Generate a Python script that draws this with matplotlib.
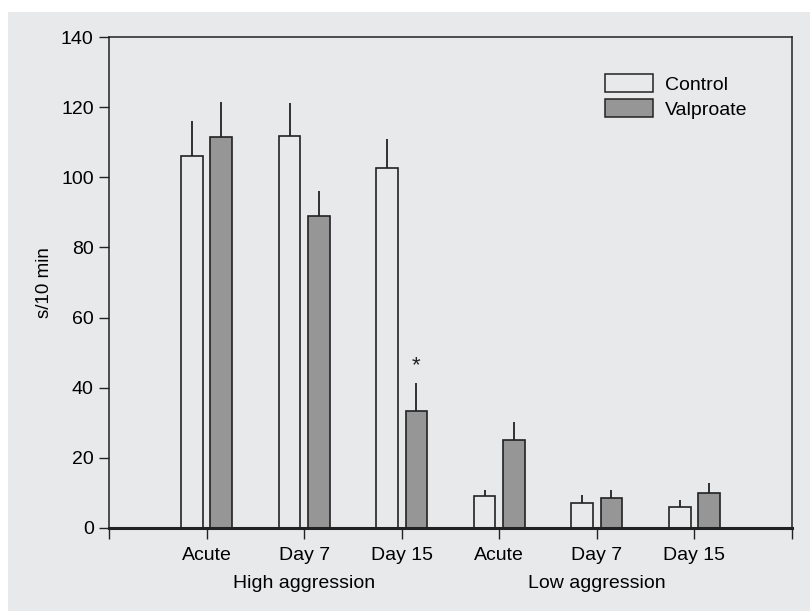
import numpy as np
import matplotlib.pyplot as plt
import matplotlib.transforms as mtransforms
from matplotlib.patches import Rectangle, Patch

plt.rcParams['font.family'] = ['Liberation Sans', 'DejaVu Sans']

# data
days = ["Acute", "Day 7", "Day 15", "Acute", "Day 7", "Day 15"]
groups = ["High aggression", "Low aggression"]
control = [106.1, 111.9, 102.6, 9.0, 7.1, 6.0]
control_err = [10.0, 9.2, 8.2, 1.8, 2.3, 2.0]
valproate = [111.6, 88.9, 33.3, 25.2, 8.5, 10.0]
valproate_err = [9.8, 7.1, 8.1, 5.0, 2.2, 2.8]

bg = "#e8e9eb"
edge = "#222222"
fs = 14

fig = plt.figure(figsize=(8.1, 6.11), dpi=100)
fig.patch.set_facecolor("white")
fig.patches.append(Rectangle((8/810, 0), 1 - 8/810, 1 - 12/611,
                             transform=fig.transFigure, facecolor=bg,
                             edgecolor="none", zorder=-10))

ax = fig.add_axes([109/810, 1 - 528/611, 683/810, 491/611])
ax.set_facecolor("none")

x = np.arange(1, len(days) + 1)
w = 0.22
ax.bar(x - 0.15, control, w, color="none", edgecolor=edge, linewidth=1.2, zorder=3)
ax.bar(x + 0.15, valproate, w, color="#969696", edgecolor=edge, linewidth=1.2, zorder=3)
# upper-only error bars, no caps
ax.vlines(x - 0.15, control, np.array(control) + np.array(control_err),
          color=edge, linewidth=1.3, zorder=2)
ax.vlines(x + 0.15, valproate, np.array(valproate) + np.array(valproate_err),
          color=edge, linewidth=1.3, zorder=2)
ax.text(3.15, valproate[2] + valproate_err[2] + 1.8, "*", ha="center", va="bottom",
        fontsize=16, color=edge)

ax.set_xlim(0, 7)
ax.set_ylim(0, 140)
ax.set_xticks(np.arange(0, 8))
ax.set_xticklabels([""] + days + [""], fontsize=fs)
ax.set_yticks(np.arange(0, 141, 20))
ax.tick_params(axis="y", labelsize=fs, direction="out", length=7, width=1, color=edge, pad=4)
ax.tick_params(axis="x", direction="out", length=8, width=1, color=edge, pad=6)
ax.set_ylabel("s/10 min", fontsize=fs - 0.5, labelpad=6)

for s in ["top", "right", "left"]:
    ax.spines[s].set_linewidth(1.1)
    ax.spines[s].set_color(edge)
ax.spines["bottom"].set_linewidth(2.2)
ax.spines["bottom"].set_color(edge)
ax.spines["bottom"].set_zorder(4)

trans = mtransforms.blended_transform_factory(ax.transData, ax.transAxes)
ax.text(2, -0.114, groups[0], transform=trans, ha="center", va="center", fontsize=fs)
ax.text(5, -0.114, groups[1], transform=trans, ha="center", va="center", fontsize=fs)

handles = [Patch(facecolor="none", edgecolor=edge, linewidth=1.1),
           Patch(facecolor="#969696", edgecolor=edge, linewidth=1.1)]
ax.legend(handles, ["Control", "Valproate"], loc="upper left",
          bbox_to_anchor=(0.7, 0.96), frameon=False, fontsize=fs,
          handlelength=2.5, handleheight=1.0, handletextpad=0.6, labelspacing=0.3)

fig.savefig("out.png", dpi=100)
